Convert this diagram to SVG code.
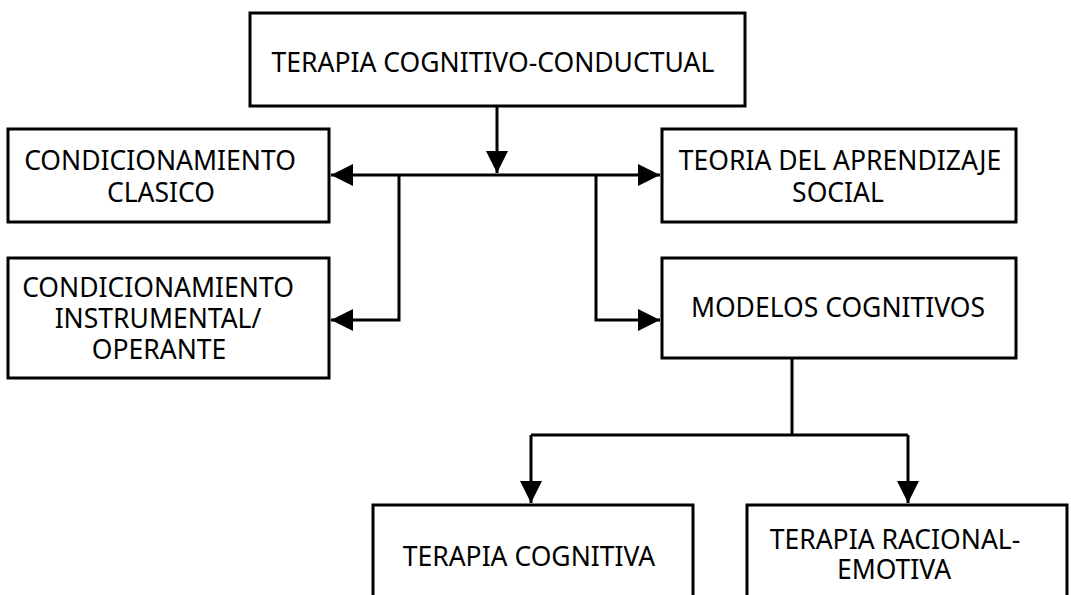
<svg xmlns="http://www.w3.org/2000/svg" width="1071" height="595" viewBox="0 0 1071 595">
<style>
.box{fill:#fff;stroke:#000;stroke-width:3}
.lbl{font-family:"Noto Sans","Open Sans","DejaVu Sans",sans-serif;font-size:26.5px;fill:#000;text-anchor:middle}
.con{fill:none;stroke:#000;stroke-width:3}
</style>
<defs>
<marker id="ah" markerUnits="userSpaceOnUse" markerWidth="22" markerHeight="22" viewBox="0 0 20 20" refX="20" refY="10" orient="auto">
<path d="M0,0 L20,10 L0,20 Z" fill="#000"/>
</marker>
</defs>
<rect width="1071" height="595" fill="#fff"/>
<g id="connectors">
<path class="con" d="M497,106 V173" marker-end="url(#ah)"/>
<path class="con" d="M497,175 H331" marker-end="url(#ah)"/>
<path class="con" d="M497,175 H660" marker-end="url(#ah)"/>
<path class="con" d="M399,175 V320 H331" marker-end="url(#ah)"/>
<path class="con" d="M596,175 V320 H660" marker-end="url(#ah)"/>
<path class="con" d="M792,358 V435"/>
<path class="con" d="M531,435 H908"/>
<path class="con" d="M531,435 V503" marker-end="url(#ah)"/>
<path class="con" d="M908,435 V503" marker-end="url(#ah)"/>
</g>
<g id="n-tcc">
<rect class="box" x="250" y="13" width="495" height="93"/>
<text class="lbl" x="493" y="72">TERAPIA COGNITIVO-CONDUCTUAL</text>
</g>
<g id="n-cc">
<rect class="box" x="8" y="129" width="321" height="93"/>
<text class="lbl" x="160" y="170">CONDICIONAMIENTO</text>
<text class="lbl" x="161" y="202">CLASICO</text>
</g>
<g id="n-ci">
<rect class="box" x="8" y="258" width="321" height="120"/>
<text class="lbl" x="158" y="297">CONDICIONAMIENTO</text>
<text class="lbl" x="158" y="328">INSTRUMENTAL/</text>
<text class="lbl" x="159" y="359">OPERANTE</text>
</g>
<g id="n-tas">
<rect class="box" x="662" y="129" width="354" height="93"/>
<text class="lbl" x="840" y="170">TEORIA DEL APRENDIZAJE</text>
<text class="lbl" x="838" y="202">SOCIAL</text>
</g>
<g id="n-mc">
<rect class="box" x="662" y="258" width="354" height="100"/>
<text class="lbl" x="838" y="317">MODELOS COGNITIVOS</text>
</g>
<g id="n-tc">
<rect class="box" x="373" y="505" width="320" height="110"/>
<text class="lbl" x="529" y="566">TERAPIA COGNITIVA</text>
</g>
<g id="n-tre">
<rect class="box" x="747" y="505" width="320" height="110"/>
<text class="lbl" x="895" y="549">TERAPIA RACIONAL-</text>
<text class="lbl" x="894" y="579">EMOTIVA</text>
</g>
</svg>
